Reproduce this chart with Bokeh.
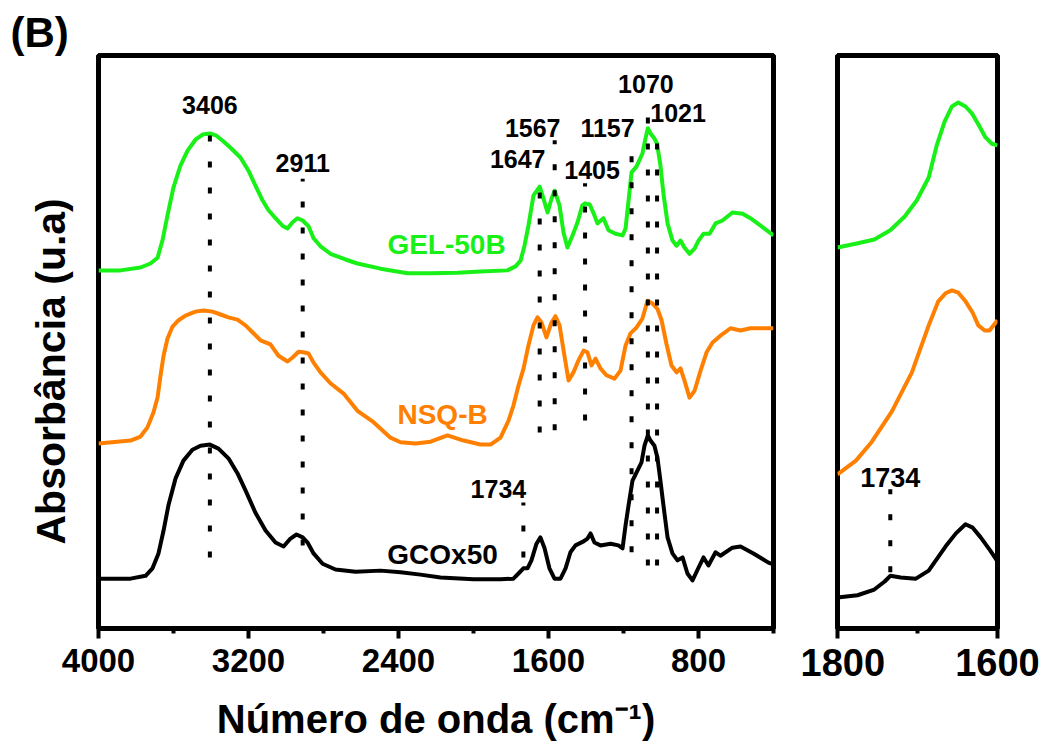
from bokeh.plotting import figure
from bokeh.layouts import row
from bokeh.models import Range1d, FixedTicker, ColumnDataSource, Title
from bokeh.core.properties import value
from bokeh.embed import file_html
from bokeh.resources import INLINE

FONT = "Liberation Sans"

# ---- FTIR spectra, stacked (absorbance, arbitrary units) ----
gel_wn = [4000, 3883, 3776, 3723, 3685, 3659, 3632, 3600, 3563, 3525, 3483, 3445, 3406, 3371,
          3333, 3296, 3243, 3200, 3163, 3125, 3093, 3056, 3019, 2992, 2965, 2939, 2911, 2880,
          2853, 2816, 2763, 2683, 2619, 2496, 2352, 2229, 2085, 1963, 1819, 1776, 1749, 1728,
          1707, 1680, 1647, 1632, 1605, 1584, 1567, 1541, 1520, 1499, 1472, 1445, 1420, 1405,
          1380, 1355, 1339, 1307, 1280, 1243, 1205, 1189, 1173, 1157, 1131, 1099, 1083, 1070,
          1056, 1035, 1021, 1003, 987, 965, 939, 917, 896, 875, 848, 821, 800, 773, 741, 709,
          672, 619, 565, 523, 469, 400]
gel_abs = [0.625, 0.625, 0.630, 0.637, 0.647, 0.677, 0.721, 0.770, 0.808, 0.834, 0.853, 0.862,
           0.864, 0.860, 0.850, 0.839, 0.822, 0.799, 0.773, 0.747, 0.730, 0.716, 0.703, 0.698,
           0.709, 0.716, 0.712, 0.702, 0.681, 0.667, 0.654, 0.644, 0.637, 0.628, 0.620, 0.620,
           0.621, 0.623, 0.625, 0.632, 0.642, 0.668, 0.703, 0.756, 0.771, 0.756, 0.726, 0.750,
           0.764, 0.738, 0.691, 0.665, 0.686, 0.709, 0.738, 0.742, 0.740, 0.721, 0.707, 0.716,
           0.695, 0.689, 0.686, 0.698, 0.747, 0.796, 0.806, 0.829, 0.855, 0.873, 0.864, 0.855,
           0.846, 0.808, 0.759, 0.707, 0.677, 0.668, 0.677, 0.665, 0.654, 0.663, 0.677, 0.689,
           0.689, 0.707, 0.712, 0.726, 0.724, 0.716, 0.703, 0.686]

nsq_wn = [4000, 3829, 3776, 3739, 3707, 3685, 3669, 3653, 3632, 3605, 3573, 3536, 3483, 3440,
          3392, 3349, 3307, 3259, 3216, 3179, 3136, 3083, 3040, 2992, 2965, 2933, 2907, 2880,
          2853, 2816, 2763, 2693, 2619, 2533, 2443, 2389, 2309, 2229, 2139, 2053, 1963, 1909,
          1856, 1813, 1787, 1760, 1733, 1707, 1680, 1659, 1637, 1611, 1584, 1563, 1541, 1515,
          1493, 1467, 1440, 1413, 1392, 1371, 1349, 1323, 1291, 1248, 1216, 1189, 1163, 1131,
          1099, 1072, 1045, 1019, 997, 971, 944, 917, 896, 875, 848, 821, 789, 757, 725, 683,
          629, 576, 523, 400]
nsq_abs = [0.323, 0.328, 0.335, 0.351, 0.377, 0.403, 0.442, 0.476, 0.506, 0.527, 0.538, 0.546,
           0.553, 0.555, 0.553, 0.548, 0.543, 0.539, 0.529, 0.517, 0.503, 0.496, 0.476, 0.466,
           0.473, 0.483, 0.482, 0.480, 0.464, 0.447, 0.428, 0.410, 0.380, 0.360, 0.333, 0.325,
           0.323, 0.326, 0.337, 0.328, 0.321, 0.321, 0.333, 0.363, 0.389, 0.424, 0.454, 0.494,
           0.529, 0.543, 0.534, 0.508, 0.534, 0.545, 0.529, 0.476, 0.433, 0.447, 0.468, 0.485,
           0.482, 0.459, 0.471, 0.454, 0.442, 0.436, 0.450, 0.494, 0.515, 0.525, 0.541, 0.572,
           0.567, 0.558, 0.538, 0.497, 0.459, 0.447, 0.454, 0.433, 0.403, 0.415, 0.450, 0.482,
           0.499, 0.511, 0.524, 0.520, 0.524, 0.524]

gco_wn = [4000, 3829, 3749, 3712, 3680, 3653, 3627, 3589, 3547, 3499, 3456, 3406, 3360, 3307,
          3259, 3216, 3163, 3109, 3056, 3013, 2976, 2944, 2911, 2885, 2853, 2805, 2736, 2629,
          2496, 2389, 2283, 2176, 2000, 1856, 1787, 1760, 1734, 1712, 1691, 1664, 1643, 1621,
          1595, 1568, 1536, 1509, 1483, 1456, 1413, 1392, 1376, 1355, 1323, 1269, 1227, 1205,
          1189, 1173, 1152, 1125, 1104, 1088, 1070, 1056, 1035, 1019, 1003, 987, 965, 939, 912,
          885, 859, 832, 800, 773, 747, 709, 683, 619, 576, 507, 427, 400]
gco_abs = [0.087, 0.087, 0.092, 0.105, 0.131, 0.171, 0.215, 0.262, 0.293, 0.312, 0.319, 0.321,
           0.314, 0.297, 0.271, 0.241, 0.202, 0.171, 0.150, 0.143, 0.157, 0.164, 0.159, 0.150,
           0.131, 0.113, 0.103, 0.099, 0.101, 0.098, 0.094, 0.089, 0.086, 0.086, 0.087, 0.096,
           0.105, 0.105, 0.119, 0.148, 0.159, 0.140, 0.105, 0.087, 0.087, 0.105, 0.133, 0.145,
           0.152, 0.157, 0.166, 0.150, 0.145, 0.148, 0.145, 0.140, 0.180, 0.215, 0.258, 0.276,
           0.290, 0.319, 0.337, 0.328, 0.319, 0.298, 0.258, 0.215, 0.159, 0.131, 0.119, 0.124,
           0.096, 0.084, 0.106, 0.124, 0.110, 0.133, 0.127, 0.141, 0.143, 0.131, 0.115, 0.112]

# ---- expanded carbonyl region (1800-1600 cm-1) ----
zoom_gel_wn = [1800, 1776, 1754, 1734, 1716, 1701, 1686, 1676, 1666, 1657, 1649, 1640, 1632,
               1624, 1615, 1607, 1600]
zoom_gel_abs = [0.665, 0.672, 0.679, 0.695, 0.719, 0.747, 0.787, 0.843, 0.885, 0.911, 0.918,
                0.911, 0.899, 0.880, 0.857, 0.846, 0.843]
zoom_nsq_wn = [1800, 1777, 1757, 1732, 1707, 1686, 1674, 1665, 1657, 1649, 1640, 1631, 1624,
               1616, 1610, 1600]
zoom_nsq_abs = [0.269, 0.293, 0.326, 0.379, 0.447, 0.529, 0.571, 0.585, 0.590, 0.586, 0.571,
                0.551, 0.529, 0.520, 0.520, 0.538]
zoom_gco_wn = [1800, 1775, 1754, 1741, 1734, 1721, 1702, 1686, 1665, 1652, 1640, 1631, 1621,
               1609, 1600]
zoom_gco_abs = [0.054, 0.058, 0.068, 0.082, 0.092, 0.089, 0.087, 0.101, 0.143, 0.166, 0.182,
                0.176, 0.159, 0.136, 0.117]

# ---- band assignments (cm-1) and their guide lines ----
peaks = [3406, 2911, 1647, 1567, 1405, 1157, 1070, 1021, 1734]
peak_text = [str(v) for v in peaks]
guide_top = [0.890, 0.785, 0.796, 0.852, 0.777, 0.852, 0.925, 0.878, 0.220]
guide_bottom = [0.124, 0.145, 0.342, 0.346, 0.363, 0.133, 0.110, 0.110, 0.124]
label_y = [0.913, 0.813, 0.820, 0.873, 0.801, 0.873, 0.951, 0.899, 0.244]
label_dx = [0, 0, -22, -22, 7, -24, -2, 21, -25]

zoom_peak = [1734]
zoom_guide_top = [0.243]
zoom_guide_bottom = [0.098]
zoom_label_y = [0.264]

series_names = ["GEL-50B", "NSQ-B", "GCOx50"]
series_colors = ["#18F018", "#FF8000", "#000000"]
series_label_x = [2144, 2165, 2165]
series_label_y = [0.670, 0.373, 0.129]

main_ticks = [4000, 3200, 2400, 1600, 800]
main_minor = [3600, 2800, 2000, 1200, 400]
zoom_ticks = [1800, 1600]
zoom_minor = [1700]


def style_frame(p, ticks, minor, label_size):
    p.grid.visible = False
    p.outline_line_color = "black"
    p.outline_line_width = 5
    ax = p.xaxis[0]
    ax.ticker = FixedTicker(ticks=ticks, minor_ticks=minor)
    ax.axis_line_width = 5
    ax.major_tick_line_width = 4
    ax.minor_tick_line_width = 4
    ax.major_tick_out = 10
    ax.major_tick_in = 0
    ax.minor_tick_out = 5
    ax.minor_tick_in = 0
    ax.major_label_standoff = 10
    ax.major_label_text_font = FONT
    ax.major_label_text_font_style = "bold"
    ax.major_label_text_font_size = label_size
    ax.major_label_text_color = "black"


def bold_title(text, size, **kw):
    return Title(text=text, text_font=FONT, text_font_style="bold", text_font_size=size,
                 text_color="black", **kw)


# ---- main panel ----
p1 = figure(width=800, height=749, output_backend="svg", toolbar_location=None,
            x_range=Range1d(4000, 400), y_range=Range1d(0, 1), y_axis_location=None,
            min_border_left=98, min_border_right=27, min_border_top=55, min_border_bottom=121)
style_frame(p1, main_ticks, main_minor, "33px")
p1.xaxis.axis_label = "Número de onda (cm⁻¹)"
p1.xaxis.axis_label_text_font = FONT
p1.xaxis.axis_label_text_font_style = "bold"
p1.xaxis.axis_label_text_font_size = "40px"
p1.xaxis.axis_label_text_color = "black"
p1.xaxis.axis_label_standoff = 22

for wn, ab, col in [(gel_wn, gel_abs, series_colors[0]),
                    (nsq_wn, nsq_abs, series_colors[1]),
                    (gco_wn, gco_abs, series_colors[2])]:
    p1.line(wn, ab, line_color=col, line_width=4, line_join="round")

p1.segment(x0=peaks, y0=guide_bottom, x1=peaks, y1=guide_top, line_color="black",
           line_width=4, line_dash="6 20")

peak_src = ColumnDataSource(dict(x=peaks, y=label_y, t=peak_text, dx=label_dx))
p1.text(x="x", y="y", text="t", x_offset="dx", source=peak_src, text_font=value(FONT),
        text_font_style="bold", text_font_size="25px", text_align="center",
        text_baseline="middle", text_color="black")

series_src = ColumnDataSource(dict(x=series_label_x, y=series_label_y, t=series_names,
                                   c=series_colors))
p1.text(x="x", y="y", text="t", text_color="c", source=series_src, text_font=value(FONT),
        text_font_style="bold", text_font_size="28px", text_align="center",
        text_baseline="middle")

p1.add_layout(bold_title("(B)", "42px", align="left", offset=-88, standoff=0), "above")
p1.add_layout(bold_title("Absorbância (u.a)", "41px", align="left", offset=84,
                         standoff=49), "left")

# ---- expanded panel ----
p2 = figure(width=250, height=749, output_backend="svg", toolbar_location=None,
            x_range=Range1d(1800, 1600), y_range=Range1d(0, 1), y_axis_location=None,
            min_border_left=37, min_border_right=53, min_border_top=55, min_border_bottom=121)
style_frame(p2, zoom_ticks, zoom_minor, "38px")

for wn, ab, col in [(zoom_gel_wn, zoom_gel_abs, series_colors[0]),
                    (zoom_nsq_wn, zoom_nsq_abs, series_colors[1]),
                    (zoom_gco_wn, zoom_gco_abs, series_colors[2])]:
    p2.line(wn, ab, line_color=col, line_width=4, line_join="round")

p2.segment(x0=zoom_peak, y0=zoom_guide_bottom, x1=zoom_peak, y1=zoom_guide_top,
           line_color="black", line_width=4, line_dash="6 20")
p2.text(x=zoom_peak, y=zoom_label_y, text=[str(v) for v in zoom_peak], text_font=value(FONT),
        text_font_style="bold", text_font_size="27px", text_align="center",
        text_baseline="middle", text_color="black")

layout = row(p1, p2, spacing=0)
open("out.html", "w").write(file_html(layout, INLINE))
